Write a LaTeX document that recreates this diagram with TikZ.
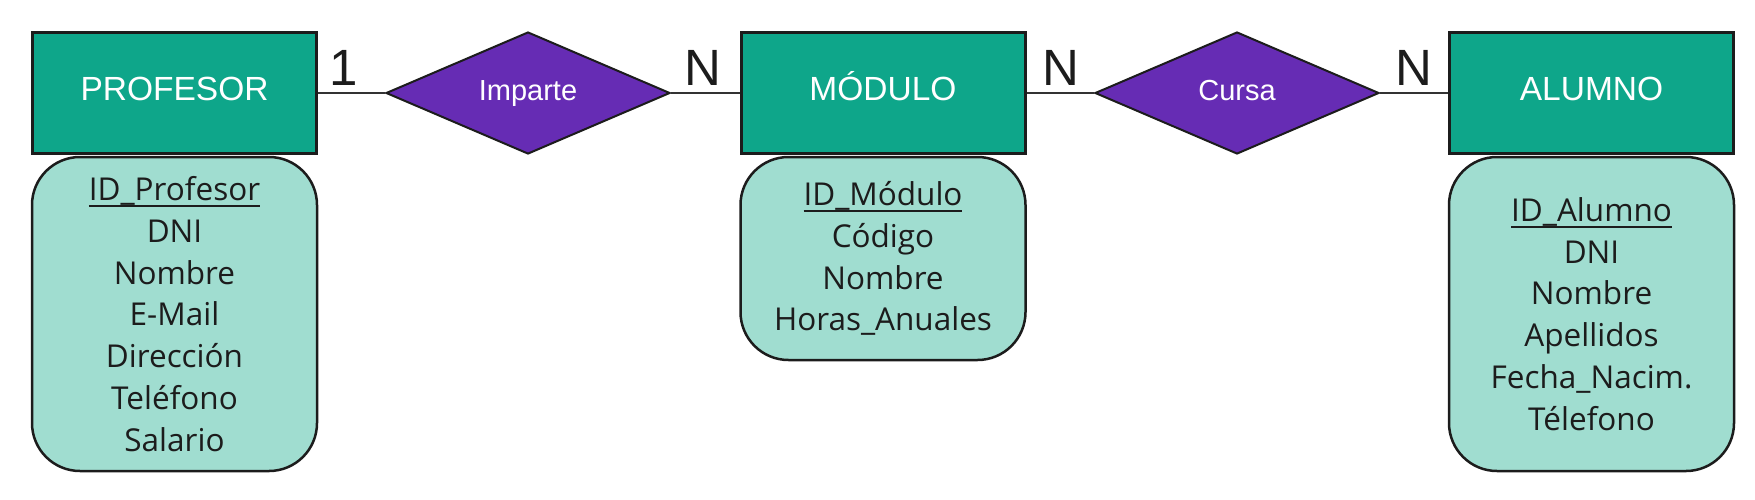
\documentclass[tikz,border=0pt]{standalone}
\usepackage{fontspec}
\setmainfont{Open Sans}
\newfontfamily\arialfont{Liberation Sans}
\usetikzlibrary{shapes.geometric}
\definecolor{entfill}{RGB}{14,166,138}
\definecolor{attrfill}{RGB}{160,221,208}
\definecolor{relfill}{RGB}{102,44,180}
\definecolor{ink}{RGB}{28,28,28}
\newcommand\pkey[1]{\setbox0=\hbox{#1}\rlap{\rule[-3pt]{\wd0}{1pt}}\box0}
\tikzset{
  ent/.style={draw=ink, line width=1.5pt, fill=entfill, rectangle,
    minimum width=142pt, minimum height=60.5pt, inner sep=0pt,
    text height=0.716em, text depth=0pt,
    text=white, font=\arialfont\fontsize{16.75pt}{20pt}\selectfont},
  rel/.style={draw=ink, line width=1pt, fill=relfill, diamond,
    minimum width=142pt, minimum height=61pt, inner sep=0pt,
    text height=0.716em, text depth=0pt,
    text=white, font=\arialfont\fontsize{14.5pt}{18pt}\selectfont},
  attr/.style={draw=ink, line width=1.25pt, fill=attrfill, rectangle,
    rounded corners=24pt, minimum width=142.5pt, inner sep=0pt,
    align=center, text=ink, font=\fontsize{15.75pt}{20.85pt}\selectfont},
  card/.style={anchor=base, inner sep=0pt, text=ink,
    font=\arialfont\fontsize{25.5pt}{28pt}\selectfont},
  conn/.style={draw=ink!90, line width=0.75pt}
}
\begin{document}
\begin{tikzpicture}[x=0.5pt, y=-0.5pt]
\useasboundingbox (0,0) rectangle (1755,499);
% entities
\node[ent] (prof) at (174.5,93) {PROFESOR};
\node[ent] (mod) at (883,93) {MÓDULO};
\node[ent] (alu) at (1591.5,93) {ALUMNO};
% relationships
\node[rel] (imp) at (528,93) {Imparte};
\node[rel] (cur) at (1237,93) {Cursa};
% attributes
\node[attr, minimum height=157pt] (aprof) at (174.5,314)
  {\pkey{ID\_Profesor}\\DNI\\Nombre\\E-Mail\\Dirección\\Teléfono\\Salario};
\node[attr, minimum height=101.5pt] (amod) at (883,258.5)
  {\pkey{ID\_Módulo}\\Código\\Nombre\\Horas\_Anuales};
\node[attr, minimum height=157pt] (aalu) at (1591.5,314)
  {\pkey{ID\_Alumno}\\DNI\\Nombre\\Apellidos\\Fecha\_Nacim.\\Télefono};
% connectors
\draw[conn] (prof) -- (imp);
\draw[conn] (imp) -- (mod);
\draw[conn] (mod) -- (cur);
\draw[conn] (cur) -- (alu);
% cardinalities
\node[card] (c1) at (344,85) {1};
\node[card] (c2) at (703,85) {N};
\node[card] (c3) at (1061,85) {N};
\node[card] (c4) at (1414,85) {N};
\end{tikzpicture}
\end{document}
